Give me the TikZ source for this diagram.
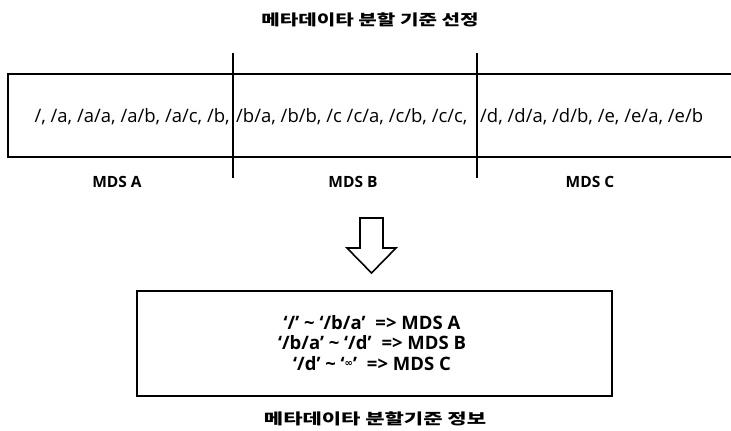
\documentclass[tikz,border=0pt]{standalone}
\usepackage{fontspec}
\setmainfont{Open Sans}
\newfontfamily\kr[FakeStretch=1.34]{Noto Sans CJK KR}
\newfontfamily\krwide[FakeStretch=1.40]{Noto Sans CJK KR}
\newfontfamily\sym{DejaVu Sans}
\begin{document}
\begin{tikzpicture}[x=1pt,y=-1pt,
  frame/.style={line width=2pt},
  divider/.style={line width=2.6pt},
  keytext/.style={font=\fontsize{18.5}{22}\selectfont, inner sep=0pt},
  mdslabel/.style={font=\fontsize{15.5}{18}\selectfont\bfseries},
  title/.style={font=\kr\bfseries\fontsize{15}{18}\selectfont},
  caption/.style={font=\krwide\bfseries\fontsize{15}{18}\selectfont},
  hollow/.style={line width=1.6pt, fill=white, line join=miter},
  rule/.style={font=\fontsize{18.5}{20.5}\selectfont\bfseries, align=center}]
\useasboundingbox (0,0) rectangle (731,431);

% title
\node[title] (t1) at (370,20) {메타데이타 분할 기준 선정};

% key range strip, open on the right
\coordinate (tr) at (731,74);
\coordinate (tl) at (8,74);
\coordinate (bl) at (8,157);
\coordinate (br) at (731,157);
\draw[frame] (tr) -- (tl) -- (bl) -- (br);

% partition boundaries
\coordinate (d1t) at (233,53);
\coordinate (d1b) at (233,178);
\coordinate (d2t) at (477,53);
\coordinate (d2b) at (477,178);
\draw[divider] (d1t) -- (d1b);
\draw[divider] (d2t) -- (d2b);

% keys in each partition
\node[keytext, anchor=east] (k1) at (230,117) {/, /a, /a/a, /a/b, /a/c, /b,};
\node[keytext, anchor=west] (k2) at (236,117) {/b/a, /b/b, /c /c/a, /c/b, /c/c,};
\node[keytext, anchor=west] (k3) at (480,117) {/d, /d/a, /d/b, /e, /e/a, /e/b};

% server labels
\node[mdslabel] (ma) at (117,182) {MDS A};
\node[mdslabel] (mb) at (353,182) {MDS B};
\node[mdslabel] (mc) at (590,182) {MDS C};

% hollow down arrow
\coordinate (a1) at (360,218);
\coordinate (a2) at (383,218);
\coordinate (a3) at (383,248);
\coordinate (a4) at (396,248);
\coordinate (tip) at (371.5,273);
\coordinate (a6) at (347,248);
\coordinate (a7) at (360,248);
\draw[hollow] (a1) -- (a2) -- (a3) -- (a4) -- (tip) -- (a6) -- (a7) -- cycle;

% partition rule table
\node[draw, line width=1.8pt, minimum width=475pt, minimum height=105pt] (box) at (374.5,343.5) {};
\node[rule] (rules) at (372,343) {‘/’ \textasciitilde{} ‘/b/a’~\;=> MDS A\\
‘/b/a’ \textasciitilde{} ‘/d’~\;=> MDS B\\
‘/d’ \textasciitilde{} ‘\raisebox{4pt}{\sym\bfseries\fontsize{10}{10}\selectfont ∞}’~\;=> MDS C};

% caption
\node[caption] (t2) at (375,419) {메타데이타 분할기준 정보};
\end{tikzpicture}
\end{document}
